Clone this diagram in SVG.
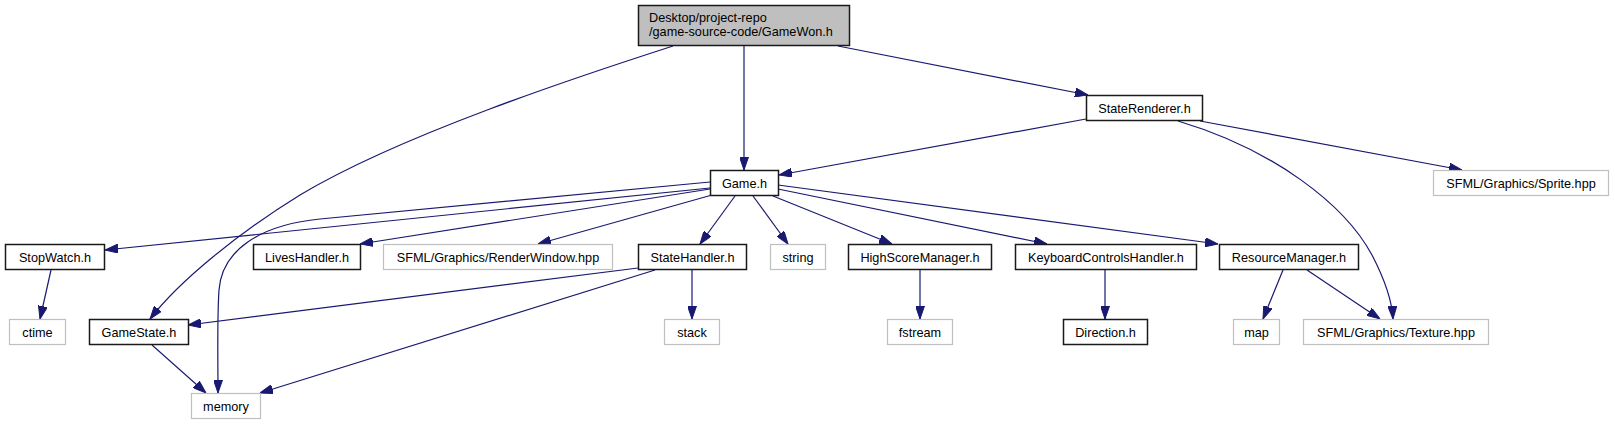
<svg xmlns="http://www.w3.org/2000/svg" width="1615" height="425" viewBox="0 0 1615 425">
<defs>
<style>
.n rect{fill:#ffffff;stroke:#1a1a1a;stroke-width:1.5}
.g rect{fill:#ffffff;stroke:#bfbfbf;stroke-width:1.2}
.root rect{fill:#bfbfbf;stroke:#1a1a1a;stroke-width:1.5}
text{font-family:"Liberation Sans",Arial,Helvetica,sans-serif;font-size:12.7px;fill:#000000}
.c{text-anchor:middle}
#edges path{fill:none;stroke:#191970;stroke-width:1.2;marker-end:url(#arr)}
</style>
<marker id="arr" markerUnits="userSpaceOnUse" markerWidth="13" markerHeight="9" refX="13" refY="4.5" orient="auto">
<path d="M0,0 L13,4.5 L0,9 z" fill="#191970" stroke="#191970" stroke-width="1"/>
</marker>
</defs>
<rect x="0" y="0" width="1615" height="425" fill="#ffffff"/>
<g id="edges">
<path d="M744,46 V170"/>
<path d="M838,46 L1088,95"/>
<path d="M673,46 C580,76 400,135 300,195 C240,232 180,280 150,319"/>
<path d="M1086,119 L779,175"/>
<path d="M1200,121 L1462,170"/>
<path d="M1178,121 C1275,150 1345,205 1372,255 C1385,280 1392,300 1393,319"/>
<path d="M710,188 L105,250"/>
<path d="M710,182 L320,219 C260,225 222,250 219,290 C217,320 218,360 218,393"/>
<path d="M710,189 L360,244"/>
<path d="M712,195 L538,244"/>
<path d="M735,196 L700,244"/>
<path d="M753,196 L788,244"/>
<path d="M773,196 L892,244"/>
<path d="M778,189 L1047,244"/>
<path d="M778,185 L1218,244"/>
<path d="M51,270 L40,319"/>
<path d="M638,268 L188,325"/>
<path d="M655,270 L260,393"/>
<path d="M692,270 V319"/>
<path d="M152,345 L206,393"/>
<path d="M920,270 V319"/>
<path d="M1105,270 V319"/>
<path d="M1283,270 L1263,319"/>
<path d="M1307,270 L1380,319"/>
</g>
<g id="node-gamewon" class="root"><rect x="638.5" y="5.5" width="211" height="40"/><text x="649" y="22">Desktop/project-repo</text><text x="649" y="36">/game-source-code/GameWon.h</text></g>
<g id="node-staterenderer" class="n"><rect x="1086.5" y="95.5" width="116" height="25"/><text class="c" x="1144.5" y="112.5">StateRenderer.h</text></g>
<g id="node-game" class="n"><rect x="710.5" y="170.5" width="68" height="25"/><text class="c" x="744.5" y="187.5">Game.h</text></g>
<g id="node-sprite" class="g"><rect x="1433.5" y="170.5" width="175" height="25"/><text class="c" x="1521" y="187.5">SFML/Graphics/Sprite.hpp</text></g>
<g id="node-stopwatch" class="n"><rect x="5.5" y="244.5" width="99" height="25"/><text class="c" x="55" y="261.5">StopWatch.h</text></g>
<g id="node-liveshandler" class="n"><rect x="253.5" y="244.5" width="107" height="25"/><text class="c" x="307" y="261.5">LivesHandler.h</text></g>
<g id="node-renderwindow" class="g"><rect x="383.5" y="244.5" width="229" height="25"/><text class="c" x="498" y="261.5">SFML/Graphics/RenderWindow.hpp</text></g>
<g id="node-statehandler" class="n"><rect x="638.5" y="244.5" width="108" height="25"/><text class="c" x="692.5" y="261.5">StateHandler.h</text></g>
<g id="node-string" class="g"><rect x="770.5" y="244.5" width="55" height="25"/><text class="c" x="798" y="261.5">string</text></g>
<g id="node-highscore" class="n"><rect x="848.5" y="244.5" width="143" height="25"/><text class="c" x="920" y="261.5">HighScoreManager.h</text></g>
<g id="node-keyboard" class="n"><rect x="1015.5" y="244.5" width="181" height="25"/><text class="c" x="1106" y="261.5">KeyboardControlsHandler.h</text></g>
<g id="node-resource" class="n"><rect x="1219.5" y="244.5" width="139" height="25"/><text class="c" x="1289" y="261.5">ResourceManager.h</text></g>
<g id="node-ctime" class="g"><rect x="9.5" y="319.5" width="56" height="25"/><text class="c" x="37.5" y="336.5">ctime</text></g>
<g id="node-gamestate" class="n"><rect x="89.5" y="319.5" width="99" height="25"/><text class="c" x="139" y="336.5">GameState.h</text></g>
<g id="node-stack" class="g"><rect x="664.5" y="319.5" width="55" height="25"/><text class="c" x="692" y="336.5">stack</text></g>
<g id="node-fstream" class="g"><rect x="887.5" y="319.5" width="65" height="25"/><text class="c" x="920" y="336.5">fstream</text></g>
<g id="node-direction" class="n"><rect x="1063.5" y="319.5" width="84" height="25"/><text class="c" x="1105.5" y="336.5">Direction.h</text></g>
<g id="node-map" class="g"><rect x="1233.5" y="319.5" width="46" height="25"/><text class="c" x="1256.5" y="336.5">map</text></g>
<g id="node-texture" class="g"><rect x="1303.5" y="319.5" width="185" height="25"/><text class="c" x="1396" y="336.5">SFML/Graphics/Texture.hpp</text></g>
<g id="node-memory" class="g"><rect x="191.5" y="393.5" width="69" height="25"/><text class="c" x="226" y="410.5">memory</text></g>
</svg>
